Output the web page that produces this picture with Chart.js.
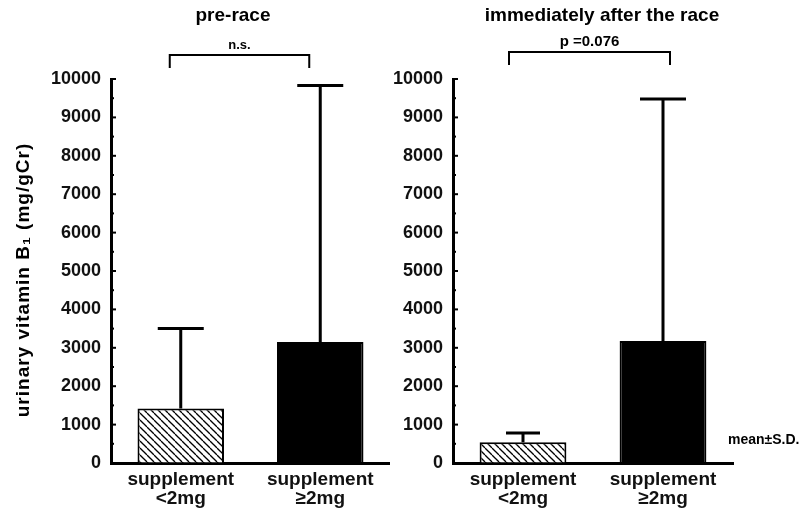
<!DOCTYPE html>
<html>
<head>
<meta charset="utf-8">
<script src="https://cdn.jsdelivr.net/npm/chart.js@4"></script>
<style>
  html, body { margin: 0; padding: 0; background: #fff; }
  #wrap { position: relative; width: 803px; height: 512px; }
  .panel { position: absolute; top: 0; height: 512px; }
  #leftPanel { left: 0; width: 390px; }
  #rightPanel { left: 380px; width: 423px; }
</style>
</head>
<body>
<div id="wrap">
  <div class="panel" id="leftPanel"><canvas id="preChart"></canvas></div>
  <div class="panel" id="rightPanel"><canvas id="postChart"></canvas></div>
</div>
<script>
const categories = [["supplement", "<2mg"], ["supplement", "\u22652mg"]];
const preMeans = [1420, 3150];
const preSD = [2080, 6680];
const postMeans = [540, 3180];
const postSD = [240, 6300];
const yTicks = [0, 1000, 2000, 3000, 4000, 5000, 6000, 7000, 8000, 9000, 10000];
const panelTitles = ["pre-race", "immediately after the race"];
const sigLabels = ["n.s.", "p =0.076"];
const yLabel = "urinary vitamin B\u2081 (mg/gCr)";
const noteText = "mean\u00b1S.D.";

const FONT = "'Liberation Sans', Arial, sans-serif";

function hatchPattern() {
  const s = 7;
  const c = document.createElement("canvas");
  c.width = s; c.height = s;
  const g = c.getContext("2d");
  g.fillStyle = "#fff";
  g.fillRect(0, 0, s, s);
  g.strokeStyle = "#000";
  g.lineWidth = 1.3;
  [-s, 0, s].forEach(k => {
    g.beginPath();
    g.moveTo(k, 0);
    g.lineTo(k + s, s);
    g.stroke();
  });
  return g.createPattern(c, "repeat");
}

// error bars, inward ticks, bracket and texts
const decorPlugin = {
  id: "decor",
  afterDatasetsDraw(chart, args, opts) {
    const ctx = chart.ctx;
    const y = chart.scales.y;
    const meta = chart.getDatasetMeta(0);
    const ds = chart.data.datasets[0];
    ctx.save();
    ctx.strokeStyle = "#000";
    ctx.fillStyle = "#000";

    // error bars (upper only)
    ctx.lineWidth = 3;
    meta.data.forEach((bar, i) => {
      const top = y.getPixelForValue(ds.data[i] + opts.sd[i]);
      const half = opts.caps[i] / 2;
      ctx.beginPath();
      ctx.moveTo(bar.x, bar.y);
      ctx.lineTo(bar.x, top);
      ctx.moveTo(bar.x - half, top);
      ctx.lineTo(bar.x + half, top);
      ctx.stroke();
    });

    // inward ticks on y axis
    const left = chart.chartArea.left;
    ctx.lineWidth = 2;
    for (let v = 0; v <= y.max; v += 500) {
      const py = y.getPixelForValue(v);
      const len = v % 1000 === 0 ? 5 : 3;
      ctx.beginPath();
      ctx.moveTo(left, py);
      ctx.lineTo(left + len, py);
      ctx.stroke();
    }

    // significance bracket
    const x0 = meta.data[0].x + opts.bracket[0];
    const x1 = meta.data[1].x + opts.bracket[1];
    const by = opts.bracketY;
    ctx.lineWidth = 2;
    ctx.beginPath();
    ctx.moveTo(x0, by + 13);
    ctx.lineTo(x0, by);
    ctx.lineTo(x1, by);
    ctx.lineTo(x1, by + 13);
    ctx.stroke();
    ctx.textAlign = "center";
    ctx.textBaseline = "middle";
    ctx.font = "bold " + opts.sigSize + "px " + FONT;
    ctx.fillText(opts.sig, (x0 + x1) / 2, by - 10);

    // panel title
    ctx.font = "bold 19px " + FONT;
    ctx.fillText(opts.title, opts.titleX, 16);

    if (opts.yLabel) {
      ctx.save();
      ctx.translate(24, 280);
      ctx.rotate(-Math.PI / 2);
      ctx.font = "bold 19px " + FONT;
      ctx.letterSpacing = "1px";
      ctx.fillText(opts.yLabel, 0, 0);
      ctx.restore();
    }
    if (opts.note) {
      ctx.textAlign = "left";
      ctx.font = "bold 14px " + FONT;
      ctx.fillText(opts.note, opts.noteX, 440);
    }
    ctx.restore();
  }
};

function makeChart(id, means, sd, yWidth, padRight, extra) {
  const ctx = document.getElementById(id).getContext("2d");
  return new Chart(ctx, {
    type: "bar",
    data: {
      labels: categories,
      datasets: [{
        data: means,
        backgroundColor: [hatchPattern(), "#000"],
        borderColor: "#000",
        borderWidth: 2,
        borderSkipped: "bottom",
        barPercentage: 0.62,
        categoryPercentage: 1,
      }]
    },
    options: {
      responsive: true,
      maintainAspectRatio: false,
      animation: false,
      layout: { padding: { top: 79, right: padRight, left: 0, bottom: 0 } },
      plugins: {
        legend: { display: false },
        tooltip: { enabled: false },
        decor: { sd, ...extra },
      },
      scales: {
        x: {
          grid: { drawOnChartArea: false, drawTicks: false },
          border: { display: true, color: "#000", width: 3 },
          ticks: { color: "#111", padding: 7, font: { family: FONT, size: 19, weight: "bold", lineHeight: 1.0 } },
          afterFit: s => { s.height = 49; },
        },
        y: {
          min: 0,
          max: 10000,
          afterBuildTicks: s => { s.ticks = yTicks.map(v => ({ value: v })); },
          grid: { drawOnChartArea: false, drawTicks: false },
          border: { display: true, color: "#000", width: 3 },
          ticks: {
            color: "#111", padding: 10,
            font: { family: FONT, size: 18, weight: "bold" },
            callback: v => String(v),
          },
          afterFit: s => { s.width = yWidth; },
        }
      }
    },
    plugins: [decorPlugin]
  });
}

makeChart("preChart", preMeans, preSD, 111, 0, {
  caps: [46, 46], bracket: [-11, -11], bracketY: 55,
  sig: sigLabels[0], sigSize: 13, title: panelTitles[0], titleX: 233, yLabel: yLabel,
});
makeChart("postChart", postMeans, postSD, 73, 70, {
  caps: [34, 46], bracket: [-14, 7], bracketY: 52,
  sig: sigLabels[1], sigSize: 15, title: panelTitles[1], titleX: 222,
  note: noteText, noteX: 348,
});
</script>
</body>
</html>
